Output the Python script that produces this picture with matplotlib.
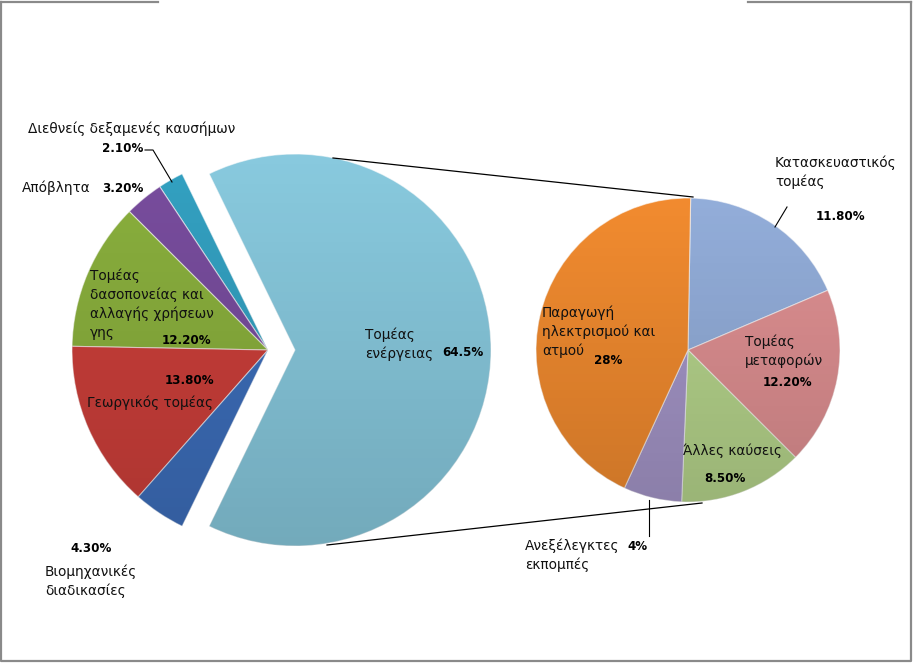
import numpy as np
import matplotlib.pyplot as plt

W, H = 913, 663

# main pie (left)
main_labels = ['Τομέας\nενέργειας', 'Διεθνείς δεξαμενές καυσήμων', 'Απόβλητα',
               'Τομέας\nδασοπονείας και\nαλλαγής χρήσεων\nγης', 'Γεωργικός τομέας',
               'Βιομηχανικές\nδιαδικασίες']
main_values = [64.5, 2.1, 3.2, 12.2, 13.8, 4.3]
main_pct = ['64.5%', '2.10%', '3.20%', '12.20%', '13.80%', '4.30%']
main_colors = ['#8ACCE1', '#34A3C4', '#7A4EA0', '#8CB23E', '#CF403B', '#3E70BE']

# breakdown of the energy sector (right)
energy_labels = ['Κατασκευαστικός\nτομέας', 'Τομέας\nμεταφορών', 'Άλλες καύσεις',
                 'Ανεξέλεγκτες\nεκπομπές', 'Παραγωγή\nηλεκτρισμού και\nατμού']
energy_values = [11.8, 12.2, 8.5, 4, 28]
energy_pct = ['11.80%', '12.20%', '8.50%', '4%', '28%']
energy_colors = ['#95B0DD', '#E29294', '#B9D88E', '#A798CB', '#F58D30']

fig = plt.figure(figsize=(W / 100, H / 100), dpi=100)
ax = fig.add_axes([0, 0, 1, 1])


def Y(y):
    return H - y


wp = dict(linewidth=0.8, edgecolor=(1, 1, 1, 0.6))
start = -main_values[0] / sum(main_values) * 180
w1, _ = ax.pie(main_values, colors=main_colors, center=(268, Y(350)), radius=196,
               startangle=start, explode=[27, 0, 0, 0, 0, 0], wedgeprops=wp)
w2, _ = ax.pie(energy_values, colors=energy_colors, center=(688, Y(350)), radius=152,
               startangle=89, counterclock=False, wedgeprops=wp)

# soft vertical shading like the office chart style
grad = np.zeros((256, 2, 4))
grad[:, :, 3] = np.linspace(0.0, 0.18, 256)[:, None]
for w, (cy, r) in [(w, (Y(350), 196)) for w in w1] + [(w, (Y(350), 152)) for w in w2]:
    im = ax.imshow(grad, extent=(0, W, cy - r - 30, cy + r + 30), origin='upper',
                   aspect='auto', zorder=w.get_zorder() + 0.1)
    im.set_clip_path(w)

ax.set_xlim(0, W)
ax.set_ylim(0, H)
ax.set_aspect('equal')
ax.axis('off')

# connector lines between the two pies
ax.plot([333, 693], [Y(158), Y(197)], color='black', lw=0.9)
ax.plot([327, 702], [Y(545), Y(503)], color='black', lw=0.9)

fs = 9.8
fb = 8.6
tk = dict(fontsize=fs, color='#111111', va='center', ha='left', linespacing=1.4)
bk = dict(fontsize=fb, fontweight='bold', color='black', va='center', ha='left')

# left labels
ax.text(365, Y(344), main_labels[0], **tk)
ax.text(442, Y(353), main_pct[0], **bk)
ax.text(28, Y(129), main_labels[1], **tk)
ax.text(102, Y(149), main_pct[1], **bk)
ax.plot([145, 153, 172], [Y(150), Y(150), Y(182)], color='black', lw=0.8)
ax.text(22, Y(188), main_labels[2], **tk)
ax.text(102, Y(188), main_pct[2], **bk)
ax.text(90, Y(304), main_labels[3], **tk)
ax.text(162, Y(340), main_pct[3], **bk)
ax.text(165, Y(380), main_pct[4], **bk)
ax.text(87, Y(403), main_labels[4], **tk)
ax.text(70, Y(548), main_pct[5], **bk)
ax.text(45, Y(581), main_labels[5], **tk)

# right labels
ax.text(775, Y(172), energy_labels[0], **tk)
ax.text(816, Y(217), energy_pct[0], **bk)
ax.plot([787, 775], [Y(207), Y(227)], color='black', lw=0.8)
ax.text(745, Y(351), energy_labels[1], **tk)
ax.text(788, Y(383), energy_pct[1], **dict(bk, ha='center'))
ax.text(683, Y(451), energy_labels[2], **tk)
ax.text(704, Y(478), energy_pct[2], **bk)
ax.text(525, Y(555), energy_labels[3], **tk)
ax.text(627, Y(546), energy_pct[3], **bk)
ax.plot([649, 649], [Y(500), Y(536)], color='black', lw=0.8)
ax.text(542, Y(332), energy_labels[4], **tk)
ax.text(594, Y(360), energy_pct[4], **bk)

# outer frame (top edge broken where a title used to be)
fc = '#8a8a8a'
ax.plot([1, 1, 911, 911], [Y(2), Y(661), Y(661), Y(2)], color=fc, lw=1.6)
ax.plot([1, 158], [Y(2), Y(2)], color=fc, lw=1.6)
ax.plot([748, 911], [Y(2), Y(2)], color=fc, lw=1.6)

fig.savefig('out.png', dpi=100)
